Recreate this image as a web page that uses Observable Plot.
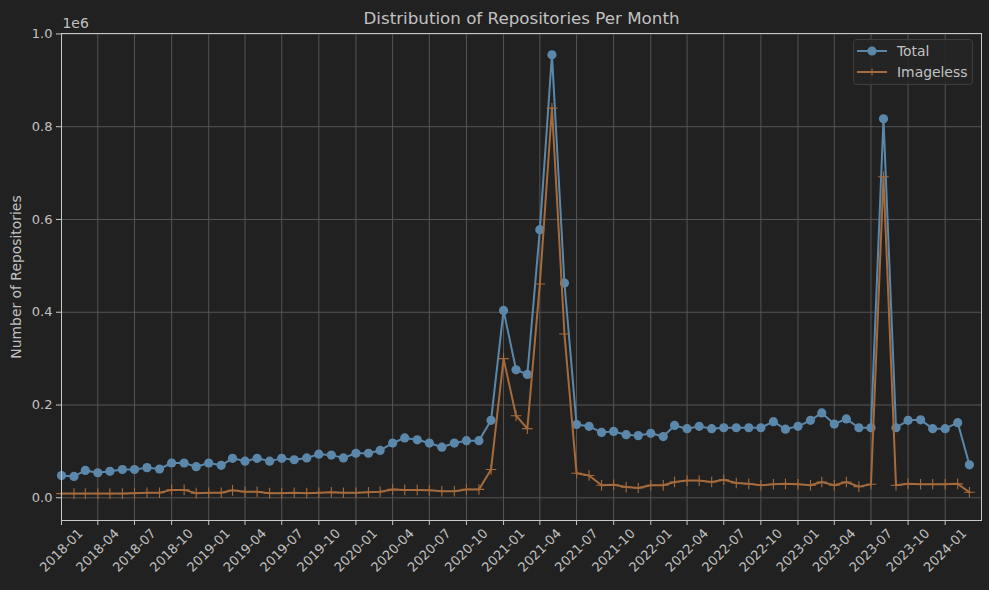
<!DOCTYPE html>
<html><head><meta charset="utf-8">
<script src="https://cdn.jsdelivr.net/npm/d3@7"></script>
<script src="https://cdn.jsdelivr.net/npm/@observablehq/plot@0.6"></script>
<style>
html,body{margin:0;padding:0;background:#212121;}
#wrap{position:relative;width:989px;height:590px;}
#legend{position:absolute;left:853px;top:39px;}
</style>
</head><body>
<div id="wrap"></div>
<script>
const titleText = "Distribution of Repositories Per Month";
const yLabel = "Number of Repositories";
const seriesNames = ["Total", "Imageless"];

const months = [
  "2018-01","2018-02","2018-03","2018-04","2018-05","2018-06","2018-07","2018-08","2018-09","2018-10","2018-11","2018-12",
  "2019-01","2019-02","2019-03","2019-04","2019-05","2019-06","2019-07","2019-08","2019-09","2019-10","2019-11","2019-12",
  "2020-01","2020-02","2020-03","2020-04","2020-05","2020-06","2020-07","2020-08","2020-09","2020-10","2020-11","2020-12",
  "2021-01","2021-02","2021-03","2021-04","2021-05","2021-06","2021-07","2021-08","2021-09","2021-10","2021-11","2021-12",
  "2022-01","2022-02","2022-03","2022-04","2022-05","2022-06","2022-07","2022-08","2022-09","2022-10","2022-11","2022-12",
  "2023-01","2023-02","2023-03","2023-04","2023-05","2023-06","2023-07","2023-08","2023-09","2023-10","2023-11","2023-12",
  "2024-01","2024-02","2024-03"
];

const totalRepos = [
  48000, 46000, 59000, 54000, 57000, 61000, 61000, 65000, 62000, 75000, 75000, 67000,
  75000, 70000, 85000, 79000, 85000, 79000, 85000, 82000, 86000, 94000, 92000, 86000,
  96000, 96000, 102000, 118000, 129000, 125000, 118000, 109000, 118000, 123000, 123000, 167000,
  404000, 276000, 266000, 578000, 955000, 463000, 158000, 154000, 141000, 143000, 136000, 134000,
  139000, 132000, 156000, 149000, 154000, 149000, 151000, 151000, 151000, 151000, 164000, 148000,
  154000, 167000, 183000, 159000, 170000, 151000, 151000, 817000, 151000, 167000, 168000, 149000,
  149000, 162000, 71000
];

const imagelessRepos = [
  9000, 9000, 9000, 9000, 9000, 9000, 10000, 11000, 11000, 17000, 17000, 10000,
  11000, 11000, 16000, 13000, 13000, 10000, 10000, 11000, 10000, 11000, 12000, 11000,
  11000, 12000, 13000, 18000, 17000, 17000, 16000, 14000, 14000, 18000, 18000, 61000,
  300000, 177000, 149000, 461000, 840000, 353000, 53000, 48000, 27000, 28000, 23000, 21000,
  27000, 27000, 34000, 37000, 37000, 34000, 39000, 32000, 30000, 27000, 29000, 30000,
  29000, 27000, 34000, 27000, 34000, 24000, 29000, 692000, 27000, 30000, 29000, 29000,
  29000, 30000, 12000
];

const xTickLabels = [
  "2018-01","2018-04","2018-07","2018-10","2019-01","2019-04","2019-07","2019-10",
  "2020-01","2020-04","2020-07","2020-10","2021-01","2021-04","2021-07","2021-10",
  "2022-01","2022-04","2022-07","2022-10","2023-01","2023-04","2023-07","2023-10","2024-01"
];
const yTicks = [0, 200000, 400000, 600000, 800000, 1000000];

const blue = "#5b88aa";
const orange = "#a66b3d";
const textColor = "#c2c2c2";
const gridColor = "#545454";
const spineColor = "#c8c8c8";
const font = "DejaVu Sans";

const parse = d3.utcParse("%Y-%m");
const data = months.map((m, i) => ({date: parse(m), total: totalRepos[i], imageless: imagelessRepos[i]}));
const xTicks = xTickLabels.map(parse);
const xTickRows = xTickLabels.map((label, i) => ({date: xTicks[i], label}));

const chart = Plot.plot({
  width: 989, height: 590,
  marginLeft: 61, marginRight: 8, marginTop: 33, marginBottom: 70,
  style: {background: "#212121", color: textColor, fontFamily: font, fontSize: "13px"},
  x: {type: "utc", domain: [new Date(Date.UTC(2018,0,1)), new Date(Date.UTC(2024,2,31))]},
  y: {domain: [-49000, 1001000]},
  marks: [
    Plot.gridX(xTicks, {stroke: gridColor, strokeOpacity: 1, strokeWidth: 1}),
    Plot.gridY(yTicks, {stroke: gridColor, strokeOpacity: 1, strokeWidth: 1}),
    Plot.axisY(yTicks, {tickFormat: d => (d / 1e6).toFixed(1), tickSize: 5, tickPadding: 4, label: null, stroke: spineColor, fill: textColor, fontSize: 13}),
    Plot.axisX(xTicks, {tickFormat: () => "", tickSize: 5, label: null, stroke: spineColor}),
    Plot.text(xTickRows, {x: "date", text: "label", frameAnchor: "bottom", dy: 30, rotate: -45, textAnchor: "middle", lineAnchor: "middle", fontSize: 13, fill: textColor}),
    Plot.lineY(data, {x: "date", y: "total", stroke: blue, strokeWidth: 2}),
    Plot.dot(data, {x: "date", y: "total", fill: blue, r: 4.6}),
    Plot.lineY(data, {x: "date", y: "imageless", stroke: orange, strokeWidth: 2}),
    Plot.dot(data, {x: "date", y: "imageless", symbol: "plus", stroke: orange, strokeWidth: 1.1, r: 3.5}),
    Plot.frame({stroke: spineColor, strokeWidth: 1}),
    Plot.text([titleText], {frameAnchor: "top", dy: -21, fontSize: 16.7, fill: textColor}),
    Plot.text(["1e6"], {frameAnchor: "top-left", dy: -15, dx: 1, textAnchor: "start", fontSize: 13.9, fill: textColor}),
    Plot.text([yLabel], {frameAnchor: "left", dx: -45, rotate: -90, textAnchor: "middle", fontSize: 13.9, fill: textColor})
  ]
});
document.getElementById("wrap").appendChild(chart);

// legend
const leg = d3.select("#wrap").append("svg").attr("id", "legend")
  .attr("width", 121).attr("height", 47);
leg.append("rect").attr("x", 0.5).attr("y", 0.5).attr("width", 119).attr("height", 45)
  .attr("rx", 3).attr("fill", "#242424").attr("fill-opacity", 0.85).attr("stroke", "#3e3e3e");
const items = [{name: seriesNames[0], color: blue, kind: "dot"}, {name: seriesNames[1], color: orange, kind: "plus"}];
items.forEach((it, i) => {
  const y = 12 + i * 21;
  leg.append("line").attr("x1", 4).attr("x2", 34).attr("y1", y).attr("y2", y).attr("stroke", it.color).attr("stroke-width", 2);
  if (it.kind === "dot") {
    leg.append("circle").attr("cx", 19).attr("cy", y).attr("r", 4.6).attr("fill", it.color);
  } else {
    leg.append("path").attr("d", `M15.5,${y}H22.5M19,${y-3.5}V${y+3.5}`).attr("stroke", it.color).attr("stroke-width", 1.1);
  }
  leg.append("text").attr("x", 44).attr("y", y + 5).attr("fill", textColor)
    .attr("font-family", font).attr("font-size", 13.9).text(it.name);
});
</script>
</body></html>
